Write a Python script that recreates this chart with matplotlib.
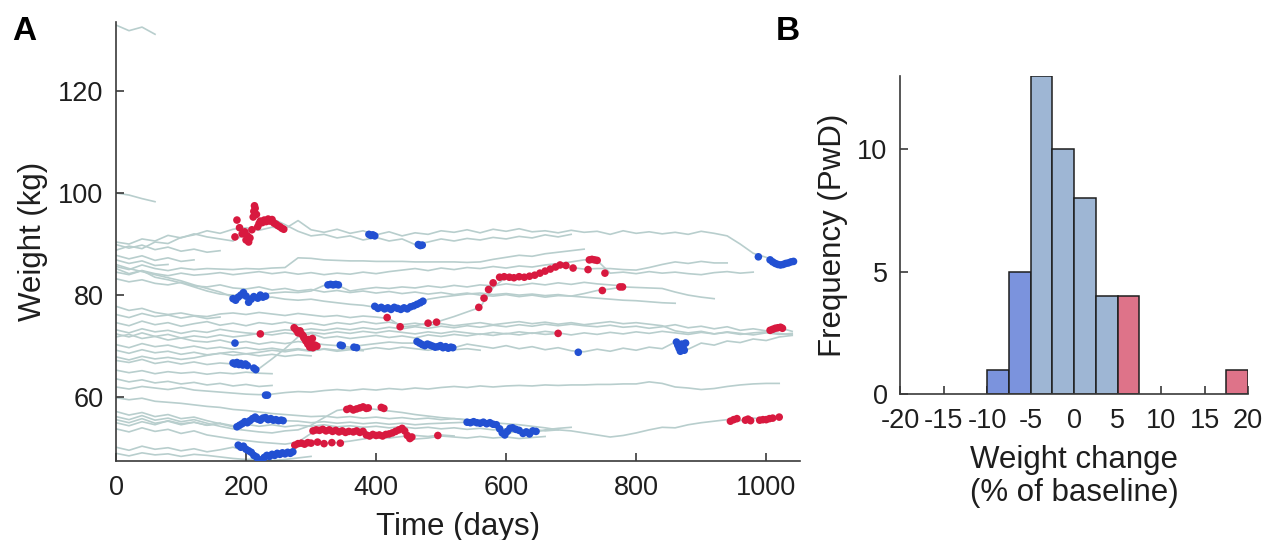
import numpy as np
import matplotlib
matplotlib.use("Agg")
import matplotlib.pyplot as plt

plt.rcParams['font.family'] = ['Liberation Sans', 'DejaVu Sans']
plt.rcParams['axes.unicode_minus'] = False

# ---------------- Panel A data: weight trajectories (kg), sampled every 20 days from day 0 ----------------
step_days = 20
w01 = [132.9, 131.8, 132.5, 131.1]
w02 = [100.0, 99.6, 98.9, 98.3]
w03 = [88.8, 89.6, 89.1, 90.4, 90.1, 91.3, 91.8, 92.6, 92.1, 92.9, 93.2, 92.7, 93.3, 93.0, 94.6, 92.8, 92.3, 92.9,
       92.1, 92.6, 91.8, 92.4, 91.6, 92.2, 91.9, 92.6, 92.3, 92.8, 92.2, 92.9, 92.5, 93.0, 92.4, 92.6, 92.2, 92.7,
       92.3, 92.5, 91.9, 92.6, 92.1, 92.4, 92.0, 92.3, 91.9, 92.5, 92.1, 91.6, 90.0, 88.2, 87.4, 86.2, 86.6]
w04 = [90.4, 90.0, 91.0, 90.6, 91.7, 91.2, 92.0, 91.4, 91.0, 90.6, 92.0, 94.0, 95.0, 93.8, 92.5, 91.6, 91.9, 91.2,
       91.6, 90.8, 91.3, 90.6, 91.0, 89.9, 90.4, 91.0, 90.6, 91.1, 90.8, 91.3, 91.0, 91.5, 91.2, 91.8, 91.4, 91.9]
w05 = [87.8, 87.1, 87.7, 86.8, 87.3, 86.6, 86.9]
w06 = [85.6, 85.0, 85.9, 85.2, 84.8, 85.3, 85.0, 85.2, 85.1, 85.0, 85.2, 85.1, 85.3, 85.4, 87.3, 87.2, 86.9, 86.8,
       86.7, 86.7, 86.6, 86.6, 86.6, 86.5, 86.5, 86.5, 86.5, 86.4, 86.5, 87.0, 87.4, 87.8, 87.6, 88.1, 88.4, 88.7, 89.0]
w07 = [77.8, 77.0, 77.4, 76.6, 76.2, 76.5, 76.0, 75.8, 76.3, 76.5, 76.2, 76.6, 76.3, 76.0, 76.4, 76.1, 75.8, 76.0,
       75.6, 75.9, 75.7, 75.4, 73.8, 74.0, 74.5, 75.0, 75.8, 76.7, 77.6, 81.5, 83.5, 83.4, 83.6, 84.4, 85.6, 85.4,
       85.1, 85.2, 85.2, 85.0, 84.9, 85.4, 86.0, 86.5, 86.2, 86.6, 86.3, 86.3]
w08 = [84.5, 84.0, 84.8, 84.2, 83.8, 84.3, 83.9, 84.1, 84.4, 84.0, 84.3, 84.6, 84.2, 84.5, 84.1, 84.4, 84.0, 84.3,
       84.1, 84.5, 84.2, 84.6, 84.9, 85.2, 84.8, 85.3, 85.0, 85.4, 85.2, 85.6, 85.3, 85.7, 85.5, 85.9, 86.2, 86.5,
       86.9, 86.8, 84.3, 84.5, 84.2, 84.6, 84.3, 84.5, 84.2, 84.0, 84.4, 84.6, 84.3, 84.5]
w09 = [83.2, 82.6, 83.0, 82.3, 82.0, 82.5, 81.8, 81.6, 82.0, 81.4, 81.2, 81.6, 81.0, 81.3, 80.8, 81.1, 80.6, 80.9,
       80.5, 80.8, 80.4, 80.7, 80.3, 80.6, 80.2, 80.5, 80.1, 80.4, 80.0, 79.8, 80.1, 79.7, 80.0, 79.6, 79.9, 79.8,
       80.3, 80.9, 81.2, 81.6, 81.5, 81.4, 81.3, 80.6, 80.0, 79.6, 79.3]
w10 = [85.2, 84.2, 84.8, 83.5, 83.0, 82.4, 81.6, 80.8, 80.2, 80.0, 79.6, 79.4, 79.6, 79.2, 79.0, 79.2, 78.8, 78.5,
       78.2, 78.0, 77.6, 77.4, 77.6, 78.0, 79.2, 79.6, 79.9, 80.2, 80.4, 80.1, 80.3, 80.0, 80.2, 79.9, 80.1, 79.8,
       79.6, 79.4, 79.2, 79.0, 78.9, 78.7, 78.5, 78.4]
w11 = [86.0, 85.2, 84.6, 84.0, 83.4, 82.8, 82.0, 81.3, 80.6, 79.6, 79.8, 80.0, 80.4, 80.6, 80.5, 80.8, 81.9, 82.0,
       80.8, 81.2, 81.5, 81.3, 81.6, 81.4, 81.8, 81.5, 81.9, 81.6, 82.0, 81.8, 82.2, 81.9, 82.3, 82.0, 82.4, 82.1,
       82.5, 82.2, 82.0, 81.8]
w12 = [74.6, 74.0, 74.9, 74.2, 74.6, 73.9, 74.4, 74.8, 74.1, 74.5, 74.0, 74.6, 74.3, 74.7, 74.2, 74.5, 74.1, 74.6,
       74.3, 74.8, 74.4, 74.7, 74.2, 74.5, 74.1, 74.4, 74.0, 74.3, 74.6, 74.2, 74.5, 74.8, 74.4, 74.7, 74.3, 74.6,
       74.2, 74.5, 74.8, 74.4, 74.6, 74.3, 74.0, 73.0, 72.6, 72.9, 72.4, 72.7, 72.3, 72.6, 72.8, 72.5, 72.2]
w13 = [73.2, 72.6, 73.4, 72.8, 73.1, 72.5, 73.0, 72.7, 73.3, 72.9, 72.6, 72.4, 72.8, 73.2, 73.0, 73.4, 73.1, 73.5,
       73.2, 73.6, 73.3, 73.7, 73.4, 73.8, 73.5, 73.9, 73.6, 74.0, 73.7, 74.1, 73.8, 74.2, 73.9, 74.3, 74.0, 74.3,
       74.0, 73.8, 74.1, 73.7, 73.9, 73.5, 73.8, 74.2, 73.6, 73.9, 73.4, 73.8, 73.1, 73.4, 73.0, 73.6, 72.9]
w14 = [71.8, 72.3, 71.5, 71.9, 71.2, 71.6, 71.0, 70.8, 71.2, 70.6, 70.9, 70.4, 70.8, 70.5, 70.9, 70.6, 70.3, 70.1,
       69.8, 70.2, 70.5, 70.8, 70.6, 70.6, 70.2, 69.9, 69.7, 70.4, 70.0, 69.6, 70.1, 69.5, 69.9, 69.3, 69.7, 69.1,
       68.9, 69.4, 69.0, 69.6, 69.2, 69.8, 69.5, 70.8, 69.4, 70.6, 70.2, 71.0, 70.7, 71.4, 71.1, 71.8, 72.1]
w15 = [67.2, 66.8, 67.4, 66.6, 67.0, 66.5, 66.9, 66.4, 66.7, 66.5, 66.2, 65.6, 67.5, 69.5, 71.8, 72.5, 71.6, 71.9,
       71.5, 71.8, 72.1, 71.7, 72.0, 71.6, 72.2, 71.9, 72.3, 72.0, 72.4, 72.1, 72.5, 72.2, 72.6, 72.3, 72.5]
w16 = [65.3, 64.8, 65.2, 64.6, 65.0, 64.7, 64.9, 64.5, 64.8, 64.6, 64.9, 64.7, 64.6]
w17 = [67.9, 67.3, 68.0, 67.5, 67.8, 67.4, 67.7, 68.2, 68.6, 68.9, 68.5, 68.8, 69.2, 68.9, 69.3, 69.0, 69.5, 69.2,
       69.6, 69.3, 69.7, 69.4, 69.8, 69.5, 69.2, 69.6, 69.3, 69.5, 69.2]
w18 = [63.6, 63.0, 63.4, 62.8, 63.1, 62.6, 62.9, 62.4, 62.7, 62.2, 62.5, 62.1, 62.3]
w19 = [62.0, 61.6, 62.1, 61.8, 61.5, 61.9, 61.4, 61.2, 61.0, 60.8, 60.6, 60.5, 60.6, 60.9, 61.1, 61.0, 61.3, 61.5,
       61.3, 61.6, 61.4, 61.7, 61.5, 61.8, 61.6, 61.9, 62.1, 61.9, 62.2, 62.0, 62.2, 62.3, 62.2, 62.4, 62.3, 62.4,
       62.4, 62.5, 62.5, 62.6, 62.6, 63.0, 62.7, 62.0, 61.8, 61.5, 61.7, 62.1, 62.4, 62.6, 62.7, 62.7]
w20 = [59.9, 59.5, 59.8, 59.2, 59.0, 58.8, 58.5, 58.2, 58.0, 57.6, 57.4, 57.1, 56.8, 56.6, 56.4, 56.2, 56.3, 56.0,
       56.2, 55.9, 56.1, 55.8, 56.0, 55.7, 55.9, 55.6, 55.8, 55.5, 55.3, 55.0, 54.8, 54.6, 54.3, 54.0, 53.6, 53.4,
       53.0, 52.6, 52.2, 52.5, 53.0, 53.6, 54.1, 54.0, 54.6, 55.0, 55.3, 55.6, 55.4, 55.9, 55.7, 56.0]
w21 = [57.2, 56.5, 57.0, 56.2, 56.6, 55.8, 56.1, 55.4, 54.8, 54.2, 55.2, 55.9, 55.6, 55.4, 55.3, 55.0, 55.2, 54.9,
       55.1, 54.8, 55.0, 54.7, 54.9, 54.6, 54.8, 54.9, 55.0, 55.1, 54.9, 54.7, 52.8, 53.5, 53.0, 53.6, 53.9, 54.1]
w22 = [53.8, 53.2, 54.0, 53.3, 53.7, 52.9, 53.4, 52.6, 52.2, 51.8, 51.5, 51.2, 51.0, 50.8, 51.2, 52.9, 53.3, 53.6,
       53.4, 53.2, 52.5, 52.8, 53.5, 51.8, 52.0, 52.4, 52.2, 52.0, 52.3, 52.0, 52.2, 51.9, 52.1, 52.3]
w23 = [50.2, 49.6, 50.4, 49.8, 50.1, 49.5, 49.9, 49.3, 49.7, 50.2, 49.4, 47.6, 48.7, 49.0, 50.6, 50.8, 51.0, 51.1,
       51.4, 51.8, 52.2, 52.0, 52.3, 52.5, 52.3, 52.6, 52.4]
w24 = [49.0, 48.5, 49.1, 48.7, 48.9, 48.4, 48.8, 48.6, 48.3, 48.0, 47.8, 47.9, 47.6, 47.8, 48.1, 48.4]
w25 = [55.6, 55.0, 55.8, 54.9, 55.3, 54.6, 55.1, 54.5, 54.9, 54.4, 54.7, 54.3, 54.6, 54.2, 54.5, 54.3, 54.6, 54.2,
       54.4, 54.1, 54.3, 54.0, 54.2, 53.9, 54.1, 53.8, 54.0, 53.7, 53.9, 53.6, 53.8, 53.5, 53.7, 53.4, 53.6]
w26 = [56.2, 55.6, 56.4, 55.5, 55.9, 55.2, 55.6, 54.9, 54.3, 53.8, 53.5, 53.2, 53.0, 53.4, 53.6, 54.5, 56.0, 57.4,
       57.8, 57.9, 57.6, 57.3, 57.0, 56.6, 56.3, 56.0, 55.8, 55.6, 55.4]
w27 = [55.0, 54.4, 55.2, 54.6, 55.4, 54.8, 55.1, 54.5, 54.9]
w28 = [72.4, 71.8, 72.6, 71.9, 72.3, 71.6, 72.0, 71.7, 72.2, 71.8, 72.1, 72.5, 72.2, 72.6, 72.3, 72.7, 72.4, 72.8,
       72.5, 72.9, 72.6, 73.0, 72.7, 72.4, 72.8, 72.5, 72.9, 72.6, 72.3, 72.7, 72.4, 72.8, 72.5, 72.9, 72.6, 72.2,
       72.6, 72.3, 72.7, 72.4, 72.8, 72.5, 72.9, 72.6, 72.3, 72.7, 72.4, 72.8, 72.5, 72.2, 72.6, 72.3, 72.5]
w29 = [89.9, 89.2, 89.8, 88.9, 89.4, 88.6, 89.0, 88.4, 88.7]
w30 = [86.9, 86.2, 86.7, 85.8, 86.0]
w31 = [70.3, 69.7, 70.5, 69.9, 70.2, 69.6, 70.0, 69.5, 69.8, 69.4, 69.7, 69.3, 69.6, 69.2, 69.5, 69.1, 69.4, 69.0,
       69.3, 69.1]
w32 = [69.2, 68.6, 69.3, 68.7, 69.0, 68.4, 68.8, 68.3, 68.6, 68.2, 68.5, 68.1, 68.4, 68.0, 68.3, 68.1]
w33 = [76.2, 75.6, 76.4, 75.8, 76.1, 75.5, 75.9, 75.4, 75.7]

trajectories = [w01, w02, w03, w04, w05, w06, w07, w08, w09, w10, w11, w12, w13, w14, w15, w16, w17,
                w18, w19, w20, w21, w22, w23, w24, w25, w26, w27, w28, w29, w30, w31, w32, w33]

# ---------------- Panel A: highlighted periods (gain = red, loss = blue) ----------------
gain1_days = [183, 186, 190, 194, 198, 202, 206, 209, 211, 212, 213, 214, 216, 218, 220, 222, 225, 228, 231, 234,
              237, 240, 243, 246, 249, 252, 255, 258, 200, 204]
gain1_kg = [91.4, 94.7, 93.2, 92.0, 92.4, 91.6, 91.2, 92.8, 95.3, 96.4, 97.5, 97.0, 95.8, 93.4, 94.0, 94.5, 94.2,
            94.7, 94.4, 94.9, 94.5, 94.8, 94.1, 93.9, 93.6, 93.4, 93.1, 92.9, 90.8, 90.4]
gain2_days = [222, 680]
gain2_kg = [72.4, 72.5]
gain3_days = [274, 277, 280, 283, 286, 289, 292, 295, 298, 300, 303, 306, 309, 288, 296, 302]
gain3_kg = [73.6, 73.2, 72.6, 73.0, 72.3, 71.6, 71.0, 70.4, 69.8, 70.6, 69.7, 70.2, 70.0, 72.0, 71.3, 71.5]
gain4_days = [275, 280, 285, 290, 295, 300, 310, 320, 332, 345]
gain4_kg = [50.6, 50.9, 51.0, 50.8, 51.1, 51.0, 51.2, 50.9, 51.1, 51.0]
gain5_days = [303, 308, 313, 318, 323, 328, 333, 338, 343, 348, 353, 358, 365, 370, 375, 380, 385, 390, 395, 400,
              405, 410, 415, 420, 425, 430, 435, 440, 444, 448, 452, 455, 495]
gain5_kg = [53.4, 53.6, 53.5, 53.7, 53.4, 53.6, 53.3, 53.5, 53.2, 53.4, 53.1, 53.3, 53.2, 53.4, 53.1, 53.3, 52.6,
            52.4, 52.7, 52.5, 52.6, 52.4, 52.7, 52.8, 53.0, 53.3, 53.6, 53.9, 53.4, 52.5, 51.9, 52.2, 52.5]
gain6_days = [355, 360, 365, 370, 375, 380, 385, 388, 408, 412]
gain6_kg = [57.6, 57.8, 57.5, 57.7, 57.9, 58.1, 57.8, 57.9, 58.0, 57.8]
gain7_days = [417, 437, 480, 493, 558, 566, 573, 580, 590, 597, 605, 612, 620, 628, 636, 644, 652, 660, 668, 676,
              683, 692, 703, 726]
gain7_kg = [75.6, 73.8, 74.5, 74.7, 77.6, 79.4, 81.1, 82.4, 83.5, 83.6, 83.5, 83.4, 83.6, 83.5, 83.7, 83.9, 84.3,
            84.7, 85.1, 85.5, 85.9, 85.8, 85.3, 85.0]
gain8_days = [728, 732, 736, 740, 752, 748, 775, 779]
gain8_kg = [86.9, 87.0, 86.9, 86.8, 84.3, 80.9, 81.6, 81.6]
gain9_days = [1006, 1010, 1014, 1018, 1022, 1025]
gain9_kg = [73.1, 73.3, 73.5, 73.6, 73.7, 73.5]
gain10_days = [945, 950, 955, 968, 972, 976, 990, 995, 1000, 1005, 1010, 1020]
gain10_kg = [55.3, 55.6, 55.8, 55.5, 55.7, 55.4, 55.5, 55.6, 55.6, 55.8, 55.9, 56.1]

loss1_days = [389, 392, 395, 398, 465, 468, 471]
loss1_kg = [91.9, 91.7, 91.8, 91.6, 89.9, 89.7, 89.8]
loss2_days = [988, 1006, 1010, 1014, 1018, 1022, 1026, 1030, 1034, 1038, 1042]
loss2_kg = [87.5, 86.9, 86.5, 86.2, 86.0, 85.9, 86.0, 86.2, 86.3, 86.5, 86.6]
loss3_days = [180, 184, 188, 192, 196, 200, 204, 208, 212, 218, 222, 226, 230, 326, 330, 334, 338, 342]
loss3_kg = [79.3, 79.0, 79.6, 80.0, 80.5, 79.8, 78.6, 79.2, 79.7, 79.4, 80.0, 79.6, 79.8, 82.0, 82.1, 82.0, 82.1, 82.0]
loss4_days = [398, 403, 408, 413, 418, 423, 428, 433, 438, 443, 448, 453, 458, 463, 468, 472]
loss4_kg = [77.8, 77.4, 77.6, 77.3, 77.5, 77.2, 77.6, 77.4, 77.2, 77.5, 77.3, 77.7, 77.9, 78.2, 78.5, 78.8]
loss5_days = [183, 345, 348, 366, 370, 463, 467, 471, 475, 479, 483, 487, 491, 495, 499, 503, 507, 511, 515, 518,
              711, 862, 864, 866, 868, 870, 872, 874, 876]
loss5_kg = [70.6, 70.2, 70.1, 69.8, 69.7, 70.9, 70.6, 70.3, 70.1, 70.4, 70.2, 70.0, 69.8, 69.9, 70.1, 69.7, 69.9,
            69.6, 69.8, 69.7, 68.8, 70.8, 70.2, 69.6, 69.0, 70.4, 69.8, 69.2, 70.6]
loss6_days = [180, 183, 186, 189, 192, 195, 199, 202, 212, 215, 230, 233]
loss6_kg = [66.7, 66.5, 66.8, 66.4, 66.6, 66.3, 66.5, 66.2, 65.7, 65.4, 60.4, 60.4]
loss7_days = [186, 190, 194, 198, 202, 206, 210, 214, 218, 222, 226, 230, 234, 238, 242, 246, 250, 254, 257]
loss7_kg = [54.2, 54.5, 54.8, 55.2, 55.0, 55.4, 55.8, 56.1, 55.7, 55.5, 55.9, 56.0, 55.6, 55.8, 55.5, 55.6, 55.4,
            55.5, 55.4]
loss8_days = [540, 545, 550, 555, 560, 565, 570, 575, 580, 585, 590, 594, 598, 602, 606, 610, 615, 620, 626, 631,
              636, 641, 646]
loss8_kg = [55.1, 55.0, 55.2, 55.0, 54.9, 55.1, 54.8, 55.0, 54.7, 54.6, 53.8, 53.0, 52.6, 53.3, 53.9, 54.0, 53.7,
            53.5, 52.9, 53.2, 52.8, 53.4, 53.3]
loss9_days = [188, 192, 196, 200, 204, 208, 212, 216, 219, 222, 225, 228, 232, 236, 240, 244, 248, 252, 256, 260,
              264, 268, 272]
loss9_kg = [50.6, 50.2, 50.4, 49.8, 49.5, 49.2, 48.6, 48.3, 47.6, 47.3, 47.8, 48.2, 48.6, 48.4, 48.8, 48.6, 49.0,
            48.8, 49.1, 48.9, 49.2, 49.0, 49.3]

gain_days = sum([gain1_days, gain2_days, gain3_days, gain4_days, gain5_days, gain6_days, gain7_days,
                 gain8_days, gain9_days, gain10_days], [])
gain_kg = sum([gain1_kg, gain2_kg, gain3_kg, gain4_kg, gain5_kg, gain6_kg, gain7_kg,
               gain8_kg, gain9_kg, gain10_kg], [])
loss_days = sum([loss1_days, loss2_days, loss3_days, loss4_days, loss5_days, loss6_days, loss7_days,
                 loss8_days, loss9_days], [])
loss_kg = sum([loss1_kg, loss2_kg, loss3_kg, loss4_kg, loss5_kg, loss6_kg, loss7_kg,
               loss8_kg, loss9_kg], [])

# ---------------- Panel B data: histogram of weight change ----------------
bin_left = [-10, -7.5, -5, -2.5, 0, 2.5, 5, 17.5]
bin_width = 2.5
bin_counts = [1, 5, 13, 10, 8, 4, 4, 1]
bin_group = ['loss', 'loss', 'stable', 'stable', 'stable', 'stable', 'gain', 'gain']
group_colors = {'loss': '#7b93dd', 'stable': '#9eb6d4', 'gain': '#de7389'}

x_ticks_A = [0, 200, 400, 600, 800, 1000]
y_ticks_A = [60, 80, 100, 120]
x_ticks_B = [-20, -15, -10, -5, 0, 5, 10, 15, 20]
y_ticks_B = [0, 5, 10]

# ---------------- Drawing ----------------
W, H = 1265, 540
fig = plt.figure(figsize=(W / 100, H / 100), dpi=100)

line_col = '#b8cecd'
red_col = '#d8193f'
blue_col = '#2250d2'
spine_col = '#3a3a3a'
text_col = '#1e1e1e'
tick_fs = 19.5
label_fs = 22.5

axA = fig.add_axes([116 / W, 1 - 461 / H, (800 - 116) / W, (461 - 22) / H])
for w in trajectories:
    days = np.arange(len(w)) * step_days
    axA.plot(days, w, color=line_col, lw=1.2, zorder=1)
axA.scatter(gain_days, gain_kg, s=30, color=red_col, edgecolors='none', zorder=3)
axA.scatter(loss_days, loss_kg, s=30, color=blue_col, edgecolors='none', zorder=3)
axA.set_xlim(0, 1052)
axA.set_ylim(47.5, 133.5)
axA.set_xticks(x_ticks_A)
axA.set_yticks(y_ticks_A)
axA.set_xlabel('Time (days)', fontsize=label_fs, color=text_col, labelpad=8)
axA.set_ylabel('Weight (kg)', fontsize=label_fs, color=text_col, labelpad=7)

axB = fig.add_axes([900 / W, 1 - 394 / H, 348 / W, 318 / H])
axB.bar(bin_left, bin_counts, width=bin_width, align='edge',
        color=[group_colors[g] for g in bin_group], edgecolor='#1e1e1e', linewidth=1.1, zorder=2)
axB.set_xlim(-20, 20)
axB.set_ylim(0, 13)
axB.set_xticks(x_ticks_B)
axB.set_xticklabels([str(t) for t in x_ticks_B])
axB.set_yticks(y_ticks_B)
axB.set_xlabel('Weight change\n(% of baseline)', fontsize=label_fs, color=text_col, labelpad=8, linespacing=1.12)
axB.set_ylabel('Frequency (PwD)', fontsize=label_fs, color=text_col, labelpad=7)

for ax in (axA, axB):
    for s in ('top', 'right'):
        ax.spines[s].set_visible(False)
    for s in ('left', 'bottom'):
        ax.spines[s].set_color(spine_col)
        ax.spines[s].set_linewidth(1.2)
    ax.tick_params(direction='in', length=6, width=1.2, colors=spine_col, labelcolor=text_col, labelsize=tick_fs)
    ax.tick_params(axis='x', pad=10)
    ax.tick_params(axis='y', pad=9)

fig.text(12 / W, 1 - 32 / H, 'A', fontsize=24, fontweight='bold', va='center', ha='left', color='black')
fig.text(776 / W, 1 - 32 / H, 'B', fontsize=24, fontweight='bold', va='center', ha='left', color='black')

fig.savefig('out.png', dpi=100)
